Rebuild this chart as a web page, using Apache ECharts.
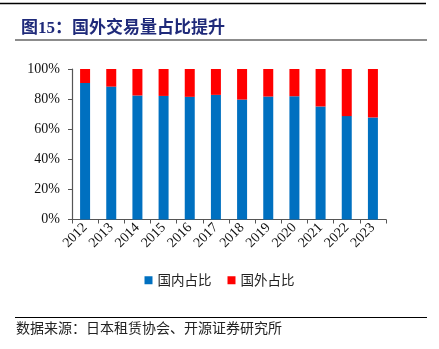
<!DOCTYPE html>
<html>
<head>
<meta charset="utf-8">
<script src="https://cdn.jsdelivr.net/npm/echarts@6/dist/echarts.min.js"></script>
<style>
  html, body { margin: 0; padding: 0; background: #fff; }
  #chart { width: 439px; height: 349px; }
</style>
</head>
<body>
<div id="chart"></div>
<script>
// Years on the category axis
const years = ['2012', '2013', '2014', '2015', '2016', '2017', '2018', '2019', '2020', '2021', '2022', '2023'];
// Domestic share of transaction volume (%)
const domesticShare = [90.7, 88.3, 82.4, 82.1, 81.5, 82.8, 79.7, 81.7, 81.9, 75.1, 68.7, 67.8];
// Overseas share (%), the remainder of each year's total
const overseasShare = [9.3, 11.7, 17.6, 17.9, 18.5, 17.2, 20.3, 18.3, 18.1, 24.9, 31.3, 32.2];
// Value axis ticks
const yTicks = [0, 20, 40, 60, 80, 100];

const serif = '"Liberation Serif", "Times New Roman", "Noto Sans CJK SC", serif';
const cjk = '"Noto Sans CJK SC", sans-serif';

const chart = echarts.init(document.getElementById('chart'), null, { renderer: 'canvas' });

chart.setOption({
  animation: false,
  backgroundColor: '#fff',
  title: {
    text: '图15：国外交易量占比提升',
    left: 16,
    top: 15,
    textStyle: {
      fontFamily: serif,
      fontWeight: 'bold',
      fontSize: 17,
      color: '#1F2A7A'
    }
  },
  graphic: [
    { type: 'line', shape: { x1: 0, y1: 3.5, x2: 426, y2: 3.5 }, style: { stroke: '#000', lineWidth: 1.5 } },
    { type: 'line', shape: { x1: 15, y1: 40, x2: 427, y2: 40 }, style: { stroke: '#8c8c8c', lineWidth: 2 } },
    { type: 'line', shape: { x1: 15, y1: 317.5, x2: 427, y2: 317.5 }, style: { stroke: '#000', lineWidth: 1 } },
    {
      type: 'text', left: 16, top: 321,
      style: { text: '数据来源：日本租赁协会、开源证券研究所', font: '14px ' + cjk, fill: '#222' }
    }
  ],
  legend: {
    bottom: 57,
    left: 'center',
    itemWidth: 8,
    itemHeight: 8,
    itemGap: 16,
    icon: 'rect',
    textStyle: { fontFamily: cjk, fontSize: 13.5, color: '#222' },
    data: ['国内占比', '国外占比']
  },
  grid: { left: 72, right: 53, top: 69, bottom: 129.5, containLabel: false },
  xAxis: {
    type: 'category',
    data: years,
    axisLine: { lineStyle: { color: '#555', width: 1.2 } },
    axisTick: { show: true, alignWithLabel: false, length: 4, lineStyle: { color: '#555' } },
    axisLabel: { rotate: 45, fontFamily: serif, fontSize: 14, color: '#111', margin: 6 }
  },
  yAxis: {
    type: 'value',
    min: yTicks[0],
    max: yTicks[yTicks.length - 1],
    interval: yTicks[1] - yTicks[0],
    axisLine: { show: true, lineStyle: { color: '#555', width: 1.2 } },
    axisTick: { show: true, length: 4, lineStyle: { color: '#555' } },
    splitLine: { show: false },
    axisLabel: { formatter: '{value}%', fontFamily: serif, fontSize: 14, color: '#111', margin: 12 }
  },
  series: [
    {
      name: '国内占比',
      type: 'bar',
      stack: 'share',
      barWidth: 10,
      itemStyle: { color: '#0070C0' },
      data: domesticShare
    },
    {
      name: '国外占比',
      type: 'bar',
      stack: 'share',
      barWidth: 10,
      itemStyle: { color: '#FF0000' },
      data: overseasShare
    }
  ]
});
</script>
</body>
</html>
